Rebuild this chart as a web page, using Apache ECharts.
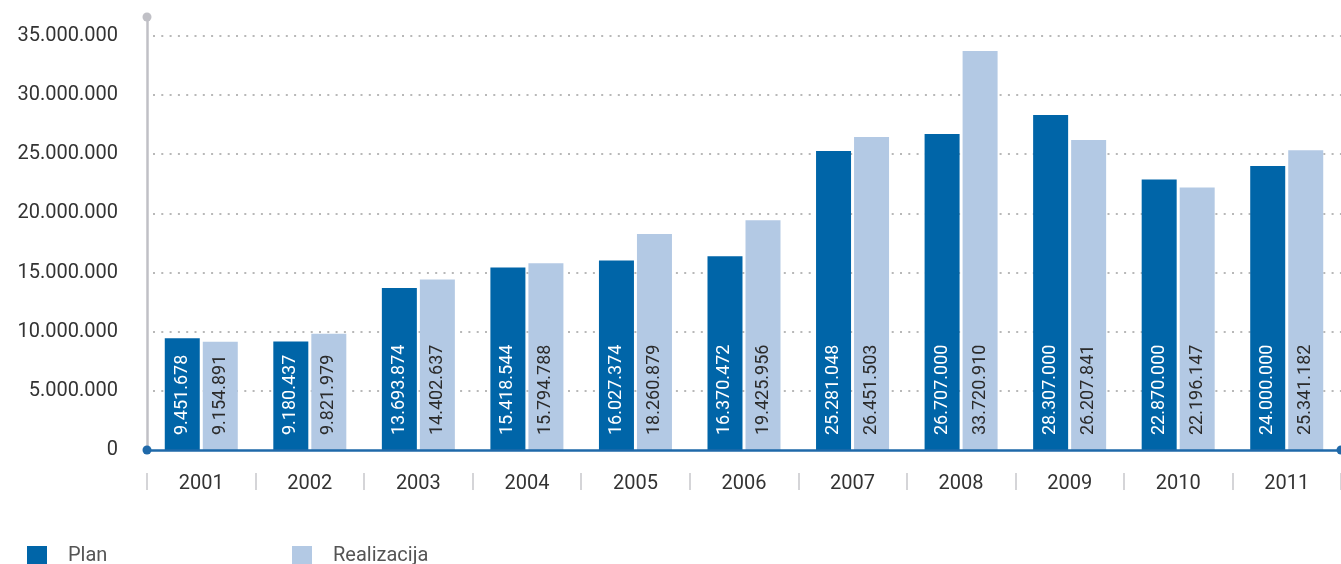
<!DOCTYPE html>
<html>
<head>
<meta charset="utf-8">
<script src="https://cdn.jsdelivr.net/npm/echarts@6/dist/echarts.min.js"></script>
<style>
html,body{margin:0;padding:0;background:#fff;}
#chart{width:1341px;height:564px;}
</style>
</head>
<body>
<div id="chart"></div>
<script>
const years = ['2001','2002','2003','2004','2005','2006','2007','2008','2009','2010','2011'];
const plan = [9451678, 9180437, 13693874, 15418544, 16027374, 16370472, 25281048, 26707000, 28307000, 22870000, 24000000];
const realizacija = [9154891, 9821979, 14402637, 15794788, 18260879, 19425956, 26451503, 33720910, 26207841, 22196147, 25341182];
const seriesNames = ['Plan', 'Realizacija'];

function fmt(v) {
  return String(Math.round(v)).replace(/\B(?=(\d{3})+(?!\d))/g, '.');
}

const FONT = 'Roboto';
const chart = echarts.init(document.getElementById('chart'), null, {renderer: 'canvas'});

const labelBase = {
  show: true,
  position: 'insideBottom',
  rotate: 90,
  align: 'left',
  verticalAlign: 'middle',
  distance: 15,
  fontFamily: FONT,
  fontSize: 18,
  formatter: p => fmt(p.value)
};

chart.setOption({
  animation: false,
  textStyle: {fontFamily: FONT},
  grid: {left: 147, top: 17, width: 1196, height: 433, containLabel: false},
  legend: [
    {data: [seriesNames[0]], left: 22, top: 541, itemWidth: 20, itemHeight: 20, icon: 'rect',
     textStyle: {fontFamily: FONT, fontSize: 20, color: '#555', padding: [0, 0, 0, 16]}},
    {data: [seriesNames[1]], left: 287, top: 541, itemWidth: 20, itemHeight: 20, icon: 'rect',
     textStyle: {fontFamily: FONT, fontSize: 20, color: '#555', padding: [0, 0, 0, 16]}}
  ],
  xAxis: [
    {
      type: 'category', data: years, boundaryGap: true,
      axisLine: {show: true, lineStyle: {color: '#1f69a9', width: 2.5},
                 symbol: ['circle', 'circle'], symbolSize: [9, 9]},
      axisTick: {show: false},
      axisLabel: {show: false},
      z: 10
    },
    {
      type: 'category', data: years, boundaryGap: true, position: 'bottom', offset: 23,
      axisLine: {show: false},
      axisTick: {show: true, length: 17, interval: 0, lineStyle: {color: '#c8c8cc', width: 1.5}},
      axisLabel: {show: true, margin: 1, fontFamily: FONT, fontSize: 20, color: '#333', interval: 0}
    }
  ],
  yAxis: {
    type: 'value', min: 0, max: 36600000, interval: 5000000,
    axisLine: {show: true, lineStyle: {color: '#c0c0c6', width: 2.5},
               symbol: ['none', 'circle'], symbolSize: [9, 9]},
    axisTick: {show: false},
    axisLabel: {margin: 29, fontFamily: FONT, fontSize: 20, color: '#333',
                showMaxLabel: false, formatter: v => fmt(v)},
    splitLine: {show: true, showMinLine: false, showMaxLine: false,
                lineStyle: {color: '#b8b8b8', width: 2, type: [2, 6.3], dashOffset: -6}}
  },
  series: [
    {
      name: seriesNames[0], type: 'bar', data: plan, xAxisIndex: 0,
      barWidth: 35, barGap: '8.6%',
      itemStyle: {color: '#0065a8'},
      label: Object.assign({}, labelBase, {color: '#ffffff'})
    },
    {
      name: seriesNames[1], type: 'bar', data: realizacija, xAxisIndex: 0,
      barWidth: 35, barGap: '8.6%',
      itemStyle: {color: '#b3c9e4'},
      label: Object.assign({}, labelBase, {color: '#2b2b2b'})
    }
  ]
});
</script>
</body>
</html>
